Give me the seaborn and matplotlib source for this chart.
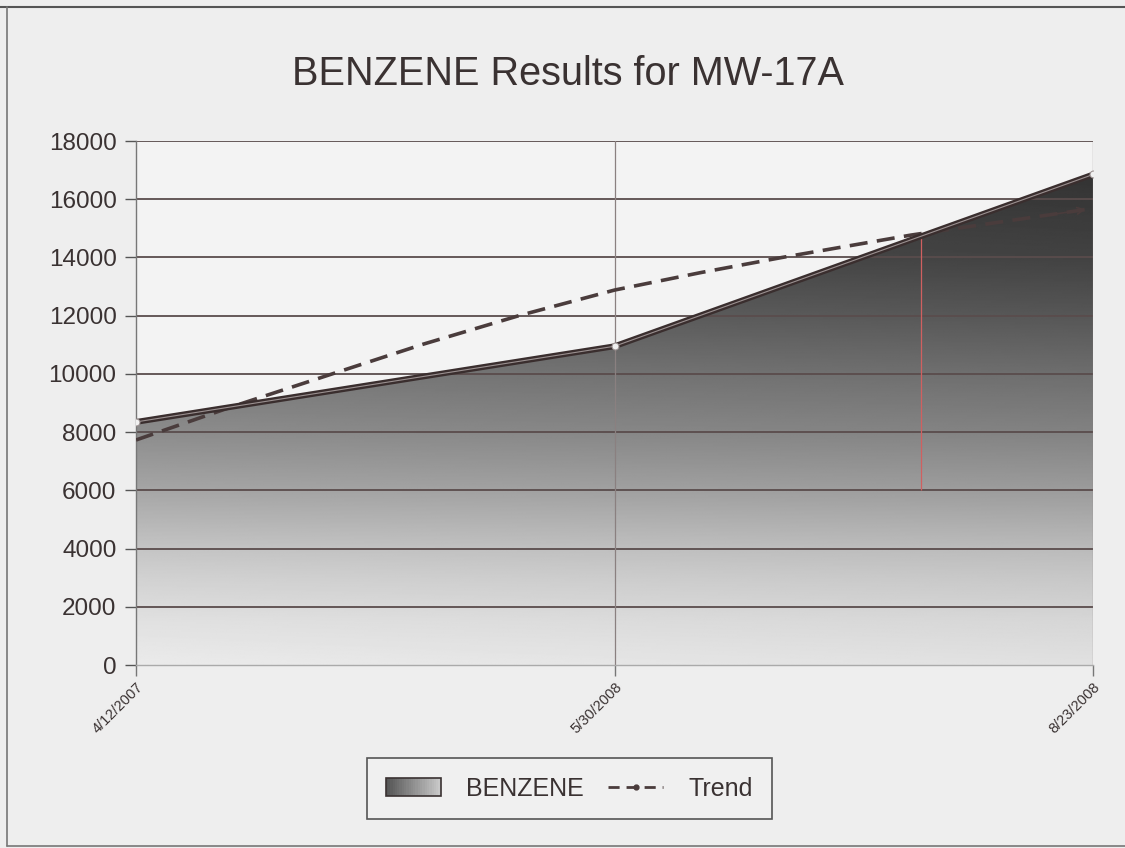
import numpy as np
import matplotlib
matplotlib.use("Agg")
import matplotlib.pyplot as plt
import seaborn as sns
from matplotlib.patches import Rectangle, Patch
from matplotlib.lines import Line2D
from matplotlib.legend_handler import HandlerBase
from matplotlib.colors import LinearSegmentedColormap

# ---------------- data ----------------
dates = ["4/12/2007", "5/30/2008", "8/23/2008"]
benzene = [8350, 10950, 16850]
trend_pos = [0.0, 0.2, 0.41, 0.6, 0.80, 1.0, 1.18, 1.35, 1.62, 1.99]
trend_val = [7730, 8870, 10000, 11020, 12000, 12880, 13480, 14000, 14770, 15660]
red_mark_pos = [1.64]
red_mark_range = [6000, 14800]
y_ticks = [0, 2000, 4000, 6000, 8000, 10000, 12000, 14000, 16000, 18000]

# ---------------- style ----------------
sns.set_theme(style="white")
plt.rcParams["font.family"] = ["Liberation Sans", "DejaVu Sans"]

fig = plt.figure(figsize=(11.25, 8.48), dpi=100, facecolor="#eeeeee")
ax = fig.add_axes([0.1209, 0.2158, 0.9716 - 0.1209, 0.8337 - 0.2158])
ax.set_facecolor("#f3f3f3")

x = np.arange(len(dates))

# gradient filled area
poly = ax.fill_between(x, benzene, 0, facecolor="none", edgecolor="none", zorder=1)
vs = np.linspace(0, 18000, 400)
shade_v = np.interp(vs, [0, 1500, 3000, 4000, 6000, 8000, 10000, 12000, 14000, 17000],
                    [0.92, 0.88, 0.82, 0.77, 0.65, 0.55, 0.47, 0.38, 0.30, 0.24])
xs = np.linspace(0, 2, 200)
shade = shade_v[:, None] - 0.04 * (xs[None, :] / 2)
img = ax.imshow(shade, extent=[0, 2, 0, 18000], origin="lower", aspect="auto",
                cmap="gray", vmin=0, vmax=1, zorder=1, interpolation="bilinear")
img.set_clip_path(poly.get_paths()[0], transform=ax.transData)

# grid lines
for t in y_ticks[1:]:
    ax.axhline(t, color="#5a4c4c", lw=1.3, zorder=2)
ax.axvline(1, color="#8a8080", lw=0.9, zorder=2)
ax.axvline(2, color="#8a8080", lw=0.9, zorder=2)

# faint red mark
ax.vlines(red_mark_pos, red_mark_range[0], red_mark_range[1], color="#d06060", lw=0.9, zorder=2.2)

# trend line
sns.lineplot(x=trend_pos, y=trend_val, ax=ax, color="#4a3c3c", lw=2.6, zorder=3,
             estimator=None, sort=False)
trend_line = ax.lines[-1]
trend_line.set_linestyle((0, (5, 2.6)))
ax.annotate("", xy=(trend_pos[-1], trend_val[-1]), xytext=(trend_pos[-2] + 0.3, trend_val[-2] + 720),
            arrowprops=dict(arrowstyle="->", color="#4a3c3c", lw=1.2), zorder=3)

# area top line
sns.lineplot(x=x, y=benzene, ax=ax, color="#3a2e2e", lw=4.2, zorder=4, estimator=None)
sns.lineplot(x=x, y=benzene, ax=ax, color="#9a9090", lw=0.8, zorder=4.1, estimator=None,
             marker="o", markersize=5, markerfacecolor="#f0f0f0", markeredgecolor="#9a9090")

ax.set_xlim(0, 2)
ax.set_ylim(0, 18000)
ax.set_yticks(y_ticks)
ax.set_yticklabels([str(t) for t in y_ticks], fontsize=17.5, color="#3a3232")
ax.set_xticks(x)
ax.set_xticklabels(dates, rotation=45, ha="right", va="top", rotation_mode="anchor",
                   fontsize=10.5, color="#3a3232")
ax.tick_params(axis="y", which="both", left=True, length=8, width=1, color="#555555", pad=6)
ax.tick_params(axis="x", which="both", bottom=True, length=8, width=1, color="#777777", pad=3)
ax.set_xlabel("")
ax.set_ylabel("")
for s in ["top", "right"]:
    ax.spines[s].set_visible(False)
ax.spines["left"].set_color("#777777")
ax.spines["left"].set_linewidth(1.0)
ax.spines["bottom"].set_color("#aaaaaa")
ax.spines["bottom"].set_linewidth(1.0)

# title
fig.text(0.505, 0.913, "BENZENE Results for MW-17A", ha="center", va="center",
         fontsize=28.5, color="#3a3232")

# legend
grad_cmap = LinearSegmentedColormap.from_list("g", ["#555555", "#c8c8c8"])

class GradHandler(HandlerBase):
    def create_artists(self, legend, orig_handle, xdescent, ydescent, width, height, fontsize, trans):
        arts = []
        n = 24
        for i in range(n):
            r = Rectangle((-xdescent + i * width / n, -ydescent), width / n + 0.3, height,
                          facecolor=grad_cmap(i / (n - 1)), edgecolor="none", transform=trans)
            arts.append(r)
        arts.append(Rectangle((-xdescent, -ydescent), width, height, facecolor="none",
                              edgecolor="#3a3232", lw=1.2, transform=trans))
        return arts

area_handle = Patch(facecolor="#888888")
trend_handle = Line2D([0], [0], color="#4a3c3c", lw=2, linestyle=(0, (4, 2.5)), marker="o",
                      markersize=3.5, markerfacecolor="#4a3c3c")
leg = fig.legend([area_handle, trend_handle], ["BENZENE", "Trend"], loc="center",
                 bbox_to_anchor=(0.506, 0.07), ncol=2, fontsize=18, frameon=True,
                 fancybox=False, edgecolor="#555555", facecolor="#f0f0f0", framealpha=1,
                 handlelength=2.2, handleheight=0.75, handletextpad=1.0, columnspacing=1.0,
                 borderpad=0.75, borderaxespad=0, handler_map={Patch: GradHandler()})
for t in leg.get_texts():
    t.set_color("#3a3232")
leg.get_frame().set_linewidth(1.2)

# figure border lines (scan frame)
fig.add_artist(Line2D([0, 1], [1 - 7 / 848, 1 - 7 / 848], transform=fig.transFigure,
                      color="#555555", lw=1.5))
fig.add_artist(Line2D([7 / 1125, 7 / 1125], [2 / 848, 1 - 7 / 848], transform=fig.transFigure,
                      color="#777777", lw=1.2))
fig.add_artist(Line2D([7 / 1125, 1], [2 / 848, 2 / 848], transform=fig.transFigure,
                      color="#777777", lw=1.2))

fig.savefig("out.png", dpi=100, facecolor=fig.get_facecolor())
